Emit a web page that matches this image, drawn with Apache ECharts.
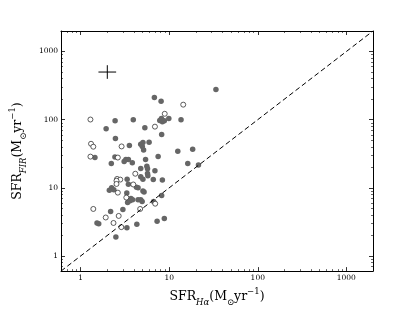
<!DOCTYPE html>
<html><head><meta charset="utf-8">
<script src="https://cdn.jsdelivr.net/npm/echarts@6/dist/echarts.min.js"></script>
<style>html,body{margin:0;padding:0;background:#fff}#c{width:415px;height:312px}</style>
</head><body><div id="c"></div>
<script>
// Filled (detected) sources: [SFR_Halpha, SFR_FIR]
const filledPoints = [
  [33.7, 278], [6.8, 212], [8.1, 186], [1.94, 73.5], [2.45, 96.5], [3.93, 99.6], [5.31, 76],
  [7.82, 97.5], [8.17, 104], [8.37, 93.3], [8.81, 96.5], [9.9, 104], [13.6, 99.6],
  [8.22, 60.5], [2.47, 53.1], [3.55, 41.9], [4.77, 43.7], [5.05, 46.2], [4.97, 40.5], [5.14, 36],
  [5.93, 46.7], [12.5, 34.5], [18.4, 36.8], [1.45, 27.8], [2.44, 28.4], [2.22, 22.8],
  [3.1, 24.4], [3.24, 26], [3.46, 26.1], [3.83, 23.4], [5.41, 26.1], [7.5, 28.7], [16.2, 22.8],
  [21.4, 21.7], [4.77, 19.2], [5.59, 20.7], [5.69, 19], [5.69, 16.2], [5.74, 15], [6.9, 17.8],
  [4.77, 14.5], [5.05, 13.4], [6.61, 13.3], [8.37, 13], [3.35, 13.4], [3.46, 11.3],
  [4.27, 10.2], [4.45, 10], [5.05, 9.0], [5.2, 8.7], [2.11, 9.2], [2.24, 10], [2.37, 9.4],
  [3.32, 8.4], [3.39, 6.1], [3.61, 6.44], [3.7, 7.0], [3.86, 6.66], [4.45, 6.66], [4.77, 6.7],
  [4.95, 6.3], [6.67, 6.3], [8.22, 7.7], [2.18, 4.5], [3.0, 4.8], [1.53, 3.05], [1.6, 2.98],
  [3.33, 2.59], [4.31, 2.92], [7.3, 3.22], [8.81, 3.55], [2.5, 1.9]
];
// Open sources
const openPoints = [
  [1.29, 100.5], [14.4, 166], [8.9, 122], [6.9, 79], [1.31, 44.3], [1.39, 40.1], [2.9, 40.5],
  [1.29, 28.7], [2.63, 27.8], [4.14, 16.1], [2.58, 13.5], [2.8, 13.2], [2.54, 12.7], [2.54, 11.4],
  [3.93, 11.2], [2.63, 8.5], [3.28, 7.2], [6.95, 5.85], [1.39, 4.9], [4.7, 4.9], [1.92, 3.67],
  [2.35, 3.05], [2.69, 3.87], [2.88, 2.65]
];
const oneToOne = [[0.6, 0.6], [2000, 2000]];
const errCenter = [2, 500];
const errDex = [0.1, 0.1];
const axisMin = 0.6, axisMax = 2000;

const serif = 'DejaVu Serif';
function labelFmt(v) {
  const l = Math.log10(v);
  return Math.abs(l - Math.round(l)) < 1e-6 ? String(Math.round(v)) : '';
}
const rich = {
  m: {fontFamily: serif, fontSize: 12.5, color: '#000', verticalAlign: 'middle', lineHeight: 20},
  s: {fontFamily: serif, fontSize: 8.5, fontStyle: 'italic', color: '#000', verticalAlign: 'bottom', lineHeight: 10},
  o: {fontFamily: serif, fontSize: 8.5, color: '#000', verticalAlign: 'bottom', lineHeight: 10},
  p: {fontFamily: serif, fontSize: 8.5, color: '#000', verticalAlign: 'top', lineHeight: 10}
};
function makeAxis(pos, showLabel, extra) {
  return Object.assign({
    type: 'log', logBase: 10, min: axisMin, max: axisMax, position: pos, gridIndex: 0,
    axisLine: {show: true, onZero: false, lineStyle: {color: '#000', width: 1}},
    axisTick: {show: true, inside: true, length: 4, lineStyle: {color: '#000', width: 0.8}},
    minorTick: {show: true, splitNumber: 9, length: 2, lineStyle: {color: '#000', width: 0.6}},
    splitLine: {show: false}, minorSplitLine: {show: false},
    axisLabel: {show: showLabel, interval: 0, formatter: labelFmt, fontFamily: serif, fontSize: 7.5, color: '#000', margin: 3,
      showMinLabel: false, showMaxLabel: false}
  }, extra || {});
}

const chart = echarts.init(document.getElementById('c'), null, {renderer: 'canvas'});
chart.setOption({
  animation: false,
  backgroundColor: '#fff',
  grid: {left: 52, right: 42, top: 31, bottom: 32, containLabel: false},
  xAxis: [
    makeAxis('bottom', true, {
      name: '{m|SFR}{s|Hα}{m|(M}{o|⊙}{m|yr}{p|−1}{m|)}',
      nameLocation: 'middle', nameGap: 9, nameTextStyle: {rich: rich}
    }),
    makeAxis('top', false)
  ],
  yAxis: [
    makeAxis('left', true, {
      name: '{m|SFR}{s|FIR}{m|(M}{o|⊙}{m|yr}{p|−1}{m|)}',
      nameLocation: 'middle', nameGap: 25, nameTextStyle: {rich: rich}
    }),
    makeAxis('right', false)
  ],
  series: [
    {
      type: 'line', data: oneToOne, symbol: 'none', silent: true,
      lineStyle: {color: '#000', width: 1, type: [5, 3]}
    },
    {
      type: 'scatter', data: filledPoints, symbol: 'circle', symbolSize: 5.5,
      itemStyle: {color: '#666', opacity: 1}
    },
    {
      type: 'scatter', data: openPoints, symbol: 'circle', symbolSize: 5,
      itemStyle: {color: '#fff', borderColor: '#333', borderWidth: 0.8, opacity: 1}
    },
    {
      type: 'custom', data: [errCenter], silent: true,
      renderItem: function (params, api) {
        const x = api.value(0), y = api.value(1);
        const fx = Math.pow(10, errDex[0]), fy = Math.pow(10, errDex[1]);
        const l = api.coord([x / fx, y]), r = api.coord([x * fx, y]);
        const b = api.coord([x, y / fy]), t = api.coord([x, y * fy]);
        const st = {stroke: '#000', lineWidth: 1};
        return {type: 'group', children: [
          {type: 'line', shape: {x1: l[0], y1: l[1], x2: r[0], y2: r[1]}, style: st},
          {type: 'line', shape: {x1: t[0], y1: t[1], x2: b[0], y2: b[1]}, style: st}
        ]};
      }
    }
  ]
});
</script></body></html>
